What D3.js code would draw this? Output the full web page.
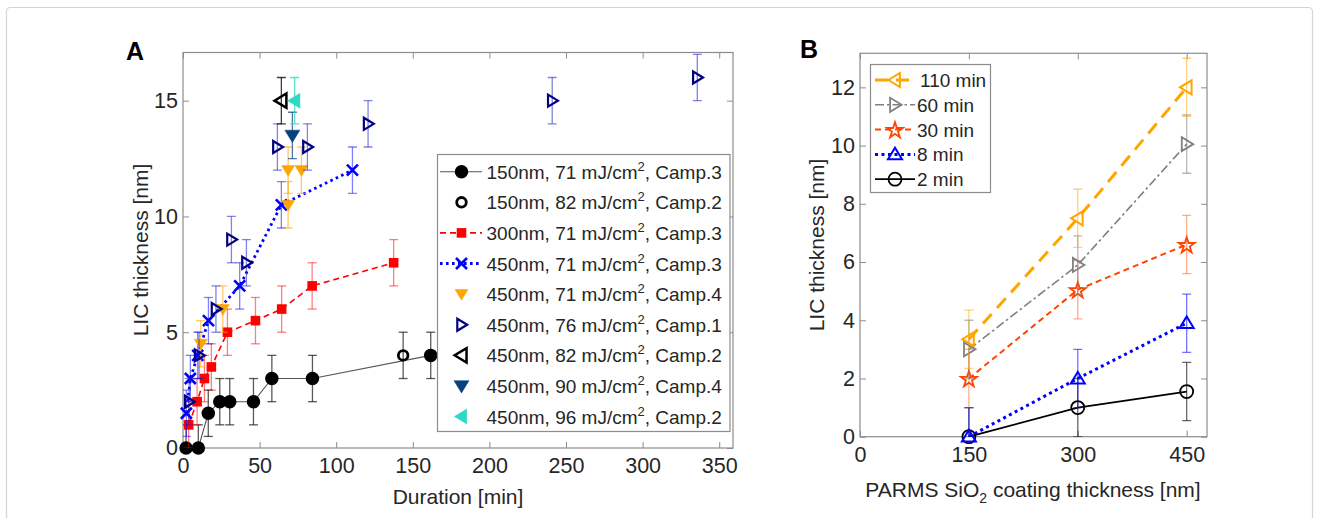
<!DOCTYPE html>
<html><head><meta charset="utf-8">
<script src="https://cdn.jsdelivr.net/npm/d3@7/dist/d3.min.js"></script>
<style>
body{margin:0;background:#fff;}
text{font-family:"Liberation Sans",Arial,Helvetica,sans-serif;}
</style></head>
<body><svg id="c" width="1319" height="518"></svg>
<script>
// ---------- Panel A data ----------
const aTicksX = [0,50,100,150,200,250,300,350];
const aTicksY = [0,5,10,15];
const s150_71_t = [2, 10, 16.5, 24, 30.5, 46, 58, 84.5, 161.7];
const s150_71_v = [0, 0, 1.5, 2, 2, 2, 3, 3, 4];
const s150_82_t = [143.7];
const s150_82_v = [4];
const s300_71_t = [3.7, 9.2, 14, 18.5, 29, 47.3, 64.4, 84.3, 137.5];
const s300_71_v = [1, 2, 3, 3.5, 5, 5.5, 6, 7, 8];
const s450_71c3_t = [2.2, 4.8, 9.6, 16.6, 37, 64.2, 110.6];
const s450_71c3_v = [1.5, 3, 4, 5.5, 7, 10.5, 12];
const s450_71c4_t = [11.6, 26, 68.6, 68.6, 77.3];
const s450_71c4_v = [4.5, 6, 10.5, 12, 12];
const s450_76_t = [4, 10.5, 21.5, 31.6, 41.4, 61.6, 81.2, 120.8, 241, 335.7];
const s450_76_v = [2, 4, 6, 9, 8, 13, 13, 14, 15, 16];
const s450_82_t = [64.2];
const s450_82_v = [15];
const s450_90_t = [71.4];
const s450_90_v = [13.5];
const s450_96_t = [72.9];
const s450_96_v = [15];
const aErr = 1;
const aLegend = [
  ["150nm, 71 mJ/cm","2",", Camp.3"],
  ["150nm, 82 mJ/cm","2",", Camp.2"],
  ["300nm, 71 mJ/cm","2",", Camp.3"],
  ["450nm, 71 mJ/cm","2",", Camp.3"],
  ["450nm, 71 mJ/cm","2",", Camp.4"],
  ["450nm, 76 mJ/cm","2",", Camp.1"],
  ["450nm, 82 mJ/cm","2",", Camp.2"],
  ["450nm, 90 mJ/cm","2",", Camp.4"],
  ["450nm, 96 mJ/cm","2",", Camp.2"]
];
// ---------- Panel B data ----------
const bCoating = [150, 300, 450];
const bTicksX = [0,150,300,450];
const bTicksY = [0,2,4,6,8,10,12];
const b110 = [3.35, 7.5, 12];
const b60 = [3, 5.9, 10.05];
const b30 = [2, 5.05, 6.6];
const b8 = [0, 2, 3.9];
const b2 = [0, 1, 1.55];
const bErr = 1;
const bLegend = ["110 min","60 min","30 min","8 min","2 min"];

// ---------- helpers ----------
const svg = d3.select("#c");
const AX = "#8c8c8c", TXT = "#262626";
svg.append("rect").attr("x",6.5).attr("y",7.5).attr("width",1306).attr("height",530)
  .attr("rx",4).attr("fill","none").attr("stroke","#d4d4d4").attr("stroke-width",1.2);

function tri(dir,h){
  let p;
  if(dir==="down") p=[[-h,-h*0.7],[h,-h*0.7],[0,h*0.95]];
  if(dir==="up") p=[[-h,h*0.7],[h,h*0.7],[0,-h*0.95]];
  if(dir==="right") p=[[-h*0.7,-h],[-h*0.7,h],[h*0.95,0]];
  if(dir==="left") p=[[h*0.7,-h],[h*0.7,h],[-h*0.95,0]];
  return "M"+p.map(d=>d.join(",")).join("L")+"Z";
}
function marker(g,type,x,y,o){
  const c=o.color;
  if(type==="circle"){
    g.append("circle").attr("cx",x).attr("cy",y).attr("r",o.r)
      .attr("fill",o.fill?c:"none").attr("stroke",c).attr("stroke-width",o.sw||1.5);
  } else if(type==="square"){
    g.append("rect").attr("x",x-o.r).attr("y",y-o.r).attr("width",2*o.r).attr("height",2*o.r).attr("fill",c);
  } else if(type==="x"){
    const h=o.r;
    g.append("path").attr("d",`M${x-h},${y-h}L${x+h},${y+h}M${x-h},${y+h}L${x+h},${y-h}`)
      .attr("stroke",c).attr("stroke-width",o.sw||2.5).attr("fill","none");
  } else if(type==="star"){
    g.append("path").attr("d",d3.symbol(d3.symbolStar,o.size)()).attr("transform",`translate(${x},${y+1})`)
      .attr("fill","none").attr("stroke",c).attr("stroke-width",o.sw||1.8);
  } else {
    g.append("path").attr("d",tri(type,o.r)).attr("transform",`translate(${x},${y})`)
      .attr("fill",o.fill?c:"none").attr("stroke",c).attr("stroke-width",o.fill?0.5:(o.sw||2))
      .attr("stroke-linejoin","miter");
  }
}
function errbars(g,xs,ys,e,x,y,color,op,cap){
  xs.forEach((t,i)=>{
    const px=x(t), y1=y(ys[i]-e), y2=y(ys[i]+e);
    g.append("line").attr("x1",px).attr("x2",px).attr("y1",y1).attr("y2",y2)
      .attr("stroke",color).attr("stroke-opacity",op).attr("stroke-width",1.3);
    [y1,y2].forEach(yy=>g.append("line").attr("x1",px-cap).attr("x2",px+cap).attr("y1",yy).attr("y2",yy)
      .attr("stroke",color).attr("stroke-opacity",op).attr("stroke-width",1.3));
  });
}
function axesBox(g,x,y,tx,ty){
  const [x0,x1]=x.range(), [y0,y1]=y.range();
  const ax=g.append("g").attr("transform",`translate(0,${y0})`)
    .call(d3.axisBottom(x).tickValues(tx).tickSizeInner(-6).tickSizeOuter(0).tickPadding(10).tickFormat(d3.format("d")));
  const ay=g.append("g").attr("transform",`translate(${x0},0)`)
    .call(d3.axisLeft(y).tickValues(ty).tickSizeInner(-6).tickSizeOuter(0).tickPadding(5).tickFormat(d3.format("d")));
  const at=g.append("g").attr("transform",`translate(0,${y1})`)
    .call(d3.axisTop(x).tickValues(tx).tickSizeInner(-6).tickSizeOuter(0).tickFormat(""));
  const ar=g.append("g").attr("transform",`translate(${x1},0)`)
    .call(d3.axisRight(y).tickValues(ty).tickSizeInner(-6).tickSizeOuter(0).tickFormat(""));
  [ax,ay,at,ar].forEach(a=>{a.select(".domain").remove();a.selectAll("line").attr("stroke",AX);
    a.selectAll("text").attr("fill",TXT).style("font-size","21.5px").style("font-family","'Liberation Sans',Arial,sans-serif");});
  ax.selectAll("text").attr("dy","0.71em");
  g.append("rect").attr("x",x0).attr("y",y1).attr("width",x1-x0).attr("height",y0-y1)
    .attr("fill","none").attr("stroke",AX).attr("stroke-width",1.2);
}

// ================= Panel A =================
const xA = d3.scaleLinear().domain([0,359]).range([183,733]);
const yA = d3.scaleLinear().domain([0,17.08]).range([448,52.5]);
const gA = svg.append("g");
svg.append("defs").append("clipPath").attr("id","clipA").append("rect")
  .attr("x",183).attr("y",52.5).attr("width",550).attr("height",395.5);
d3.select("defs").append("clipPath").attr("id","clipB").append("rect")
  .attr("x",860).attr("y",53.3).attr("width",347).attr("height",383.4);
axesBox(gA,xA,yA,aTicksX,aTicksY);
gA.append("text").attr("x",458).attr("y",504).attr("text-anchor","middle").attr("fill",TXT)
  .style("font-size","21px").text("Duration [min]");
gA.append("text").attr("transform","translate(148,250) rotate(-90)").attr("text-anchor","middle").attr("fill",TXT)
  .style("font-size","21px").text("LIC thickness [nm]");
svg.append("text").attr("x",126).attr("y",60).style("font-size","25px").style("font-weight","bold").attr("fill","#000").text("A");

const line = (x,y)=>d3.line().x(d=>x(d[0])).y(d=>y(d[1]));
const zip=(a,b)=>a.map((d,i)=>[d,b[i]]);

// series definitions A (draw order)
const seriesA = [
  {t:s150_71_t,v:s150_71_v,color:"#000",ecol:"#000",eop:0.65,type:"circle",mo:{r:6,fill:true},
   line:{w:1.1,dash:null,color:"#555"}},
  {t:s150_82_t,v:s150_82_v,color:"#000",ecol:"#000",eop:0.65,type:"circle",mo:{r:4.8,fill:false,sw:2.8}},
  {t:s300_71_t,v:s300_71_v,color:"#ff0000",ecol:"#ff0000",eop:0.5,type:"square",mo:{r:4.8},
   line:{w:1.6,dash:"6,4",color:"#ff0000"}},
  {t:s450_71c3_t,v:s450_71c3_v,color:"#0000ff",ecol:"#0000ff",eop:0.5,type:"x",mo:{r:5.5,sw:2.6},
   line:{w:2.8,dash:"2.6,3.4",color:"#0000ff"}},
  {t:s450_71c4_t,v:s450_71c4_v,color:"#ffa500",ecol:"#ffa500",eop:0.6,type:"down",mo:{r:6.5,fill:true}},
  {t:s450_76_t,v:s450_76_v,color:"#000080",ecol:"#1e1ec8",eop:0.55,type:"right",mo:{r:6,fill:false,sw:2.2}},
  {t:s450_82_t,v:s450_82_v,color:"#000",ecol:"#000",eop:0.75,type:"left",mo:{r:7.2,fill:false,sw:2.5}},
  {t:s450_90_t,v:s450_90_v,color:"#06407d",ecol:"#06407d",eop:0.7,type:"down",mo:{r:7.5,fill:true}},
  {t:s450_96_t,v:s450_96_v,color:"#2ed9c3",ecol:"#2ed9c3",eop:0.8,type:"left",mo:{r:7.5,fill:true}}
];
seriesA.forEach(s=>{
  const g=gA.append("g");
  const cg=g.append("g").attr("clip-path","url(#clipA)");
  errbars(cg,s.t,s.v,aErr,xA,yA,s.ecol,s.eop,4.5);
  if(s.line){
    cg.append("path").attr("d",line(xA,yA)(zip(s.t,s.v))).attr("fill","none")
      .attr("stroke",s.line.color).attr("stroke-width",s.line.w).attr("stroke-dasharray",s.line.dash);
  }
  s.t.forEach((t,i)=>marker(g,s.type,xA(t),yA(s.v[i]),Object.assign({color:s.color},s.mo)));
});

// legend A
const lgA = svg.append("g");
lgA.append("rect").attr("x",437.5).attr("y",154.5).attr("width",292.5).attr("height",277)
  .attr("fill","#fff").attr("stroke",AX).attr("stroke-width",1.2);
seriesA.forEach((s,i)=>{
  const yy=171.7+i*30.6;
  if(s.line){
    lgA.append("line").attr("x1",440).attr("x2",482).attr("y1",yy).attr("y2",yy)
      .attr("stroke",s.line.color).attr("stroke-width",s.line.w).attr("stroke-dasharray",s.line.dash);
  }
  marker(lgA,s.type,461.5,yy,Object.assign({color:s.color},s.mo));
  const t=lgA.append("text").attr("x",486.5).attr("y",yy+7).attr("fill",TXT).style("font-size","19px");
  t.append("tspan").text(aLegend[i][0]);
  t.append("tspan").attr("dy",-8).style("font-size","13px").text(aLegend[i][1]);
  t.append("tspan").attr("dy",8).text(aLegend[i][2]);
});

// ================= Panel B =================
const xB = d3.scaleLinear().domain([0,478]).range([860,1207]);
const yB = d3.scaleLinear().domain([0,13.17]).range([436.7,53.3]);
const gB = svg.append("g");
axesBox(gB,xB,yB,bTicksX,bTicksY);
const xl = gB.append("text").attr("x",1033).attr("y",497).attr("text-anchor","middle").attr("fill",TXT).style("font-size","21px");
xl.append("tspan").text("PARMS SiO");
xl.append("tspan").attr("dy",6).style("font-size","14px").text("2");
xl.append("tspan").attr("dy",-6).text(" coating thickness [nm]");
gB.append("text").attr("transform","translate(824,245) rotate(-90)").attr("text-anchor","middle").attr("fill",TXT)
  .style("font-size","21px").text("LIC thickness [nm]");
svg.append("text").attr("x",800).attr("y",58).style("font-size","25px").style("font-weight","bold").attr("fill","#000").text("B");

const seriesB = [
  {v:b2,color:"#000",type:"circle",mo:{r:6.5,fill:false,sw:1.8},lw:1.8,dash:null,eop:0.6},
  {v:b8,color:"#0000ff",type:"up",mo:{r:7,fill:false,sw:2},lw:3,dash:"3,3.5",eop:0.55},
  {v:b30,color:"#ff4500",type:"star",mo:{size:78,sw:1.8},lw:2,dash:"6,4",eop:0.45},
  {v:b60,color:"#808080",type:"right",mo:{r:7,fill:false,sw:1.8},lw:1.6,dash:"9,3,2.5,3",eop:0.55},
  {v:b110,color:"#ffa500",type:"left",mo:{r:7,fill:false,sw:2},lw:3,dash:"13,8",eop:0.5}
];
seriesB.forEach(s=>{
  const g=gB.append("g");
  const cg=g.append("g").attr("clip-path","url(#clipB)");
  errbars(cg,bCoating,s.v,bErr,xB,yB,s.color,s.eop,4.5);
  cg.append("path").attr("d",line(xB,yB)(zip(bCoating,s.v))).attr("fill","none")
    .attr("stroke",s.color).attr("stroke-width",s.lw).attr("stroke-dasharray",s.dash);
  bCoating.forEach((c,i)=>marker(g,s.type,xB(c),yB(s.v[i]),Object.assign({color:s.color},s.mo)));
});
// legend B (order: 110, 60, 30, 8, 2)
const lgB = svg.append("g");
lgB.append("rect").attr("x",870.5).attr("y",64.5).attr("width",120).attr("height",128)
  .attr("fill","#fff").attr("stroke",AX).attr("stroke-width",1.2);
const orderB=[4,3,2,1,0];
orderB.forEach((k,i)=>{
  const s=seriesB[k], yy=80+i*24.8;
  lgB.append("line").attr("x1",875).attr("x2",915).attr("y1",yy).attr("y2",yy)
    .attr("stroke",s.color).attr("stroke-width",s.lw).attr("stroke-dasharray",s.dash);
  marker(lgB,s.type,895,yy,Object.assign({color:s.color},s.mo));
  lgB.append("text").attr("x",i===0?920:917).attr("y",yy+7).attr("fill",TXT).style("font-size","19px").text(bLegend[i]);
});
</script></body></html>
